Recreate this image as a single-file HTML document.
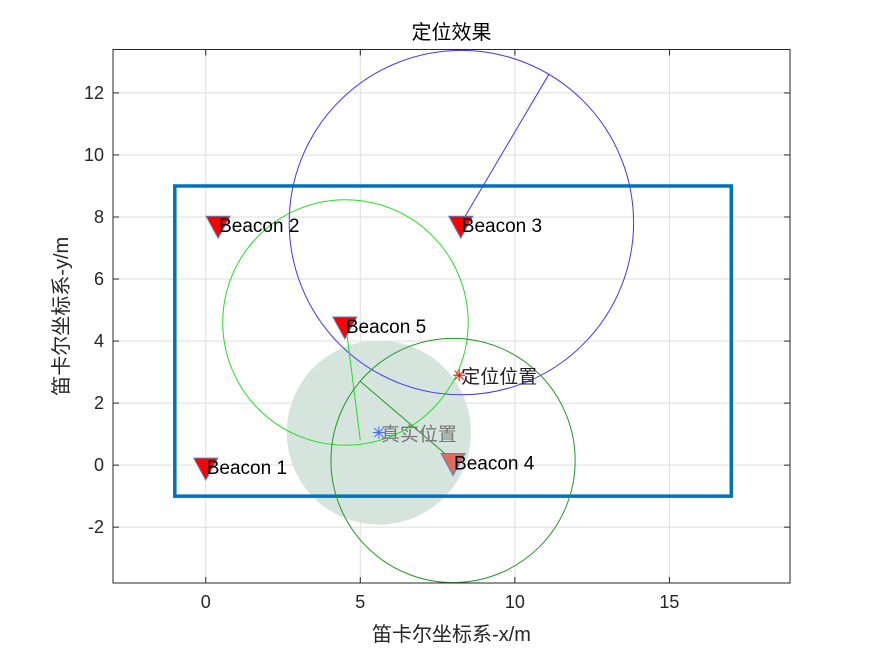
<!DOCTYPE html>
<html><head><meta charset="utf-8"><style>
body{margin:0;background:#fff;}
svg text{font-family:"Liberation Sans","Noto Sans CJK SC",sans-serif;}
</style></head><body>
<svg id="chart" width="875" height="656" viewBox="0 0 875 656">
<rect x="0" y="0" width="875" height="656" fill="#fff"/>
<g id="grid"></g>
<g id="marks"></g>
<g id="axes"></g>
</svg>
<script>
const xTicks=[0,5,10,15];
const yTicks=[-2,0,2,4,6,8,10,12];
const beaconNames=["Beacon 1","Beacon 2","Beacon 3","Beacon 4","Beacon 5"];
const beaconX=[0,0.4,8.25,8.0,4.5];
const beaconY=[0,7.8,7.8,0.15,4.55];
const rectX=[-1,17];
const rectY=[-1,9];
const circleCx=[8.27,4.52,8.0];
const circleCy=[7.82,4.6,0.15];
const circleR=[5.57,3.97,3.95];
const circleColors=["#4433ee","#22dd22","#229922"];
const radiusEndX=[11.1,5.0,5.0];
const radiusEndY=[12.6,0.8,2.7];
const trueX=5.6, trueY=1.05, shadeR=2.98;
const estX=8.2, estY=2.9;

const X0=113,X1=790,Y0=49.5,Y1=583;
const xmin=-3,xmax=18.9,ymin=-3.8,ymax=13.4;
const sx=v=>X0+(v-xmin)/(xmax-xmin)*(X1-X0);
const sy=v=>Y1-(v-ymin)/(ymax-ymin)*(Y1-Y0);
const k=(X1-X0)/(xmax-xmin);
const NS="http://www.w3.org/2000/svg";
function mk(parent,tag,attrs,txt){const e=document.createElementNS(NS,tag);for(const a in attrs)e.setAttribute(a,attrs[a]);if(txt!==undefined)e.textContent=txt;parent.appendChild(e);return e;}
const grid=document.getElementById('grid'),marks=document.getElementById('marks'),axes=document.getElementById('axes');

xTicks.forEach(t=>{const l=mk(grid,'line',{x1:sx(t),x2:sx(t),y1:Y0,y2:Y1,stroke:'#dedede','stroke-width':1});

});
yTicks.forEach(t=>{const l=mk(grid,'line',{x1:X0,x2:X1,y1:sy(t),y2:sy(t),stroke:'#dedede','stroke-width':1});

});

const sh=mk(marks,'circle',{cx:sx(trueX),cy:sy(trueY),r:shadeR*k,fill:'#d5e5de'});



const br=mk(marks,'rect',{x:sx(rectX[0]),y:sy(rectY[1]),width:sx(rectX[1])-sx(rectX[0]),height:sy(rectY[0])-sy(rectY[1]),fill:'none',stroke:'#0072BD','stroke-width':3.5});



circleCx.forEach((c,i)=>{
 const ci=mk(marks,'circle',{cx:sx(c),cy:sy(circleCy[i]),r:circleR[i]*k,fill:'none',stroke:circleColors[i],'stroke-width':1});
 
 
 const ln=mk(marks,'line',{x1:sx(c),y1:sy(circleCy[i]),x2:sx(radiusEndX[i]),y2:sy(radiusEndY[i]),stroke:circleColors[i],'stroke-width':1});
 
 
});

beaconX.forEach((bx,i)=>{
 const px=sx(bx),py=sy(beaconY[i]);
 const tri=mk(marks,'polygon',{points:`${px-12},${py-7} ${px+12},${py-7} ${px},${py+15}`,fill:i===3?'#e06a5e':'#ff0000',stroke:'#4a8ac8','stroke-width':1});
 
 
 const t=mk(marks,'text',{x:px+1,y:py+9,'font-size':19,fill:'#000'},beaconNames[i]);
 
 
});

function star(x,y,color,name){
 const g=mk(marks,'g',{stroke:color,'stroke-width':1});
 
 
 const r=6;
 mk(g,'line',{x1:x-r,y1:y,x2:x+r,y2:y});mk(g,'line',{x1:x,y1:y-r,x2:x,y2:y+r});
 mk(g,'line',{x1:x-4.5,y1:y-4.5,x2:x+4.5,y2:y+4.5});mk(g,'line',{x1:x-4.5,y1:y+4.5,x2:x+4.5,y2:y-4.5});
}
star(sx(estX),sy(estY),'#ff0000','estimated-position-marker');
const et=mk(marks,'text',{x:sx(estX)+2,y:sy(estY)+8,'font-size':19,fill:'#222'},'定位位置');


star(sx(trueX),sy(trueY),'#4466ee','true-position-marker');
const tt=mk(marks,'text',{x:sx(trueX)+2,y:sy(trueY)+8,'font-size':19,fill:'#777'},'真实位置');



const ab=mk(axes,'rect',{x:X0,y:Y0,width:X1-X0,height:Y1-Y0,fill:'none',stroke:'#262626','stroke-width':1});


xTicks.forEach(t=>{
 mk(axes,'line',{x1:sx(t),x2:sx(t),y1:Y1,y2:Y1-6,stroke:'#262626'});
 mk(axes,'line',{x1:sx(t),x2:sx(t),y1:Y0,y2:Y0+6,stroke:'#262626'});
 const l=mk(axes,'text',{x:sx(t),y:Y1+25,'font-size':18,'text-anchor':'middle',fill:'#262626'},String(t));
 
 
});
yTicks.forEach(t=>{
 mk(axes,'line',{x1:X0,x2:X0+6,y1:sy(t),y2:sy(t),stroke:'#262626'});
 mk(axes,'line',{x1:X1,x2:X1-6,y1:sy(t),y2:sy(t),stroke:'#262626'});
 const l=mk(axes,'text',{x:X0-9,y:sy(t)+6,'font-size':18,'text-anchor':'end',fill:'#262626'},String(t));
 
 
});
const ti=mk(axes,'text',{x:(X0+X1)/2,y:39,'font-size':20,'text-anchor':'middle',fill:'#000'},'定位效果');


const xl=mk(axes,'text',{x:(X0+X1)/2,y:641,'font-size':20,'text-anchor':'middle',fill:'#262626'},'笛卡尔坐标系-x/m');


const yl=mk(axes,'text',{x:0,y:0,'font-size':20,'text-anchor':'middle',fill:'#262626',transform:`translate(68,${(Y0+Y1)/2}) rotate(-90)`},'笛卡尔坐标系-y/m');


</script>
</body></html>
